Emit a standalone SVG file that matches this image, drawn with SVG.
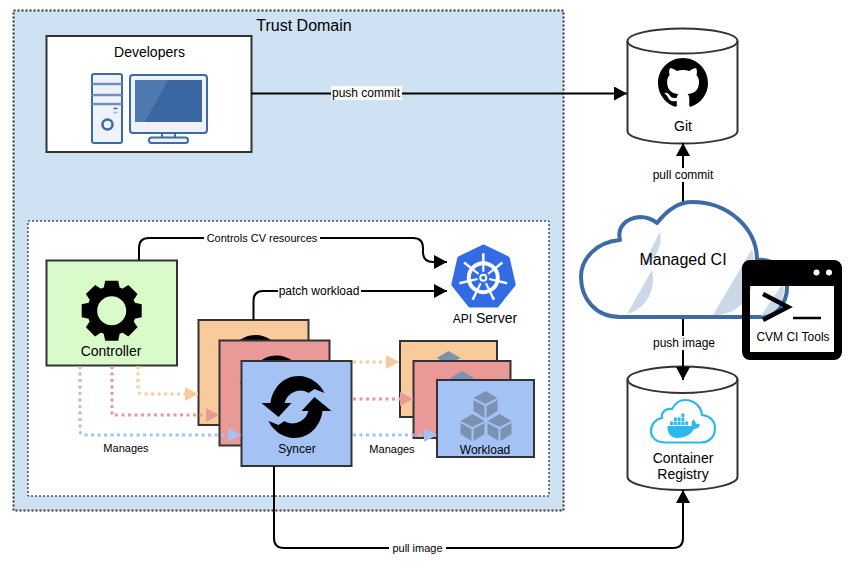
<svg xmlns="http://www.w3.org/2000/svg" width="861" height="575" viewBox="0 0 861 575">
<style>
text{font-family:"Liberation Sans",Arial,sans-serif;fill:#000;text-anchor:middle}
.box{stroke:#333;stroke-width:2}
.o{fill:#f9cb9c}.r{fill:#ea9999}.b{fill:#a4c2f4}
.c{fill:none;stroke:#000;stroke-width:2}
.d{fill:none;stroke-width:3;stroke-dasharray:3 3.5}
.lbl{fill:#fff}
.t11{font-size:11px}.t12{font-size:12px}.t14{font-size:14px}
.cyl{fill:#fff;stroke:#333;stroke-width:2}
.mon{fill:#eff3f9;stroke:#3d6ba5;stroke-width:2}
.hl{fill:#cbd8e8}
.dk{fill:#2bb8ec}
</style>
<defs>
<marker id="ah" markerUnits="userSpaceOnUse" markerWidth="14" markerHeight="14" refX="13" refY="7" orient="auto"><path d="M0 0L13 7L0 14Z" fill="#000"/></marker>
<marker id="ao" markerUnits="userSpaceOnUse" markerWidth="14" markerHeight="14" refX="13" refY="7" orient="auto"><path d="M0 0L13 7L0 14Z" fill="#f9cb9c"/></marker>
<marker id="ar" markerUnits="userSpaceOnUse" markerWidth="14" markerHeight="14" refX="13" refY="7" orient="auto"><path d="M0 0L13 7L0 14Z" fill="#ea9999"/></marker>
<marker id="ab" markerUnits="userSpaceOnUse" markerWidth="14" markerHeight="14" refX="13" refY="7" orient="auto"><path d="M0 0L13 7L0 14Z" fill="#a4c2f4"/></marker>
<g id="sync">
<path d="M-35 -4L-26 -4C-24 -20 -12 -31 2 -31C14 -31 24 -23 28 -14L18 -18L12 -14C6 -19 -8 -17 -12 -4L-5 -4L-18 10Z"/>
<path d="M-35 -4L-26 -4C-24 -20 -12 -31 2 -31C14 -31 24 -23 28 -14L18 -18L12 -14C6 -19 -8 -17 -12 -4L-5 -4L-18 10Z" transform="rotate(180)"/>
</g>
<g id="cube" fill="#7b92b2">
<path d="M12 0L24 7L12 13L0 7Z"/><path d="M0 9L11 15V27L0 20Z"/><path d="M24 9L13 15V27L24 20Z"/>
</g>
<g id="cubes">
<use href="#cube" x="-12" y="0"/><use href="#cube" x="-25" y="23"/><use href="#cube" x="2" y="23"/>
</g>
<path id="tooth" d="M-8 -23L-6.5 -30H6.5L8 -23Z"/>
<path id="spoke" d="M-1 -6H1L1.3 -24.5H-1.3Z" fill="#fff"/>
</defs>

<rect id="trust-domain" x="13.5" y="10.5" width="550" height="500" fill="#cfe2f3" stroke="#333" stroke-width="2" stroke-dasharray="2 2"/>
<text x="304" y="31" style="font-size:16px">Trust Domain</text>
<rect id="cluster" x="28" y="221" width="521" height="275" fill="#fff" stroke="#000" stroke-width="1" stroke-dasharray="2 2"/>

<g id="developers">
<rect x="46.5" y="36" width="205" height="116" fill="#fff" class="box"/>
<text x="149.5" y="57" class="t14">Developers</text>
<rect x="92" y="74" width="30" height="69" rx="2" class="mon"/>
<path d="M92 84H122M92 95H122M92 104H122" stroke="#6f91bd" stroke-width="2.5" fill="none"/>
<circle cx="107.5" cy="124.5" r="5" fill="#eff3f9" stroke="#3d6ba5" stroke-width="2.5"/>
<path d="M113.5 108.5H117.5" stroke="#3d6ba5" stroke-width="1.5"/><path d="M113.5 112.5H117.5" stroke="#9db3d1" stroke-width="1.5"/>
<rect x="162" y="132" width="13" height="6" class="mon"/>
<rect x="149" y="137.5" width="39" height="5.5" rx="2.5" class="mon"/>
<rect x="130" y="75" width="77" height="58" rx="3" class="mon"/>
<rect x="135" y="80" width="67" height="42" fill="#3a67a3"/>
<path d="M135 80H168L145 122H135Z" fill="#4f7aaf"/>
</g>

<g id="controller">
<rect x="46.5" y="260.5" width="130.5" height="105" fill="#d9fbc9" class="box"/>
<g transform="translate(111.7 310.7)">
<circle r="19.5" fill="none" stroke="#000" stroke-width="10"/>
<use href="#tooth"/><use href="#tooth" transform="rotate(45)"/><use href="#tooth" transform="rotate(90)"/><use href="#tooth" transform="rotate(135)"/><use href="#tooth" transform="rotate(180)"/><use href="#tooth" transform="rotate(225)"/><use href="#tooth" transform="rotate(270)"/><use href="#tooth" transform="rotate(315)"/>
</g>
<text x="111" y="356" class="t14">Controller</text>
</g>

<g id="syncer-orange">
<rect x="198.5" y="320" width="110" height="105" class="box o"/>
<use href="#sync" transform="translate(253.5 366)"/>
</g>
<g id="syncer-red">
<rect x="219.5" y="340.5" width="110" height="105" class="box r"/>
<use href="#sync" transform="translate(274.5 386.5)"/>
</g>
<g id="syncer">
<rect x="241.5" y="361" width="110" height="105" class="box b"/>
<use href="#sync" transform="translate(296.5 407)"/>
<text x="297" y="453" class="t12">Syncer</text>
</g>

<g id="workload-orange">
<rect x="400" y="341" width="97" height="76" class="box o"/>
<use href="#cubes" transform="translate(448.5 351)"/>
</g>
<g id="workload-red">
<rect x="413.5" y="361" width="97" height="77" class="box r"/>
<use href="#cubes" transform="translate(462 371)"/>
</g>
<g id="workload">
<rect x="437" y="380" width="97" height="77" class="box b"/>
<use href="#cubes" transform="translate(485.5 391)"/>
<text x="485" y="454" class="t12">Workload</text>
</g>

<g id="api-server">
<path d="M483.5 246.5L507.7 258.2L513.7 284.4L497 305.4H470L453.3 284.4L459.3 258.2Z" fill="#326ce5" stroke="#326ce5" stroke-width="4" stroke-linejoin="round"/>
<g transform="translate(483.3 277.7)">
<circle r="14.5" fill="none" stroke="#fff" stroke-width="4"/>
<use href="#spoke"/><use href="#spoke" transform="rotate(51.43)"/><use href="#spoke" transform="rotate(102.86)"/><use href="#spoke" transform="rotate(154.29)"/><use href="#spoke" transform="rotate(205.71)"/><use href="#spoke" transform="rotate(257.14)"/><use href="#spoke" transform="rotate(308.57)"/>
<circle r="4" fill="#fff"/><circle r="2" fill="#326ce5"/>
</g>
<text x="485" y="323" class="t14"><tspan class="t12">API</tspan> Server</text>
</g>

<g id="git">
<path d="M627.5 41C627.5 34 652 28.5 682.5 28.5S737.5 34 737.5 41V131C737.5 138 713 143.5 682.5 143.5S627.5 138 627.5 131Z" class="cyl"/>
<path d="M627.5 41C627.5 48 652 53.5 682.5 53.5S737.5 48 737.5 41" class="cyl" style="fill:none"/>
<path transform="translate(658 58) scale(3.125)" d="M8 0C3.58 0 0 3.58 0 8c0 3.54 2.29 6.53 5.47 7.59.4.07.55-.17.55-.38 0-.19-.01-.82-.01-1.49-2.01.37-2.53-.49-2.69-.94-.09-.23-.48-.94-.82-1.13-.28-.15-.68-.52-.01-.53.63-.01 1.08.58 1.23.82.72 1.21 1.87.87 2.33.66.07-.52.28-.87.51-1.07-1.78-.2-3.64-.89-3.64-3.95 0-.87.31-1.59.82-2.15-.08-.2-.36-1.02.08-2.12 0 0 .67-.21 2.2.82.64-.18 1.32-.27 2-.27.68 0 1.36.09 2 .27 1.53-1.04 2.2-.82 2.2-.82.44 1.1.16 1.92.08 2.12.51.56.82 1.27.82 2.15 0 3.07-1.87 3.75-3.65 3.95.29.25.54.73.54 1.48 0 1.07-.01 1.93-.01 2.2 0 .21.15.46.55.38A8.013 8.013 0 0016 8c0-4.42-3.58-8-8-8z"/>
<text x="683" y="131" class="t14">Git</text>
</g>

<g id="container-registry">
<path d="M627.5 379.5C627.5 372.5 652 366.5 682.5 366.5S737.5 372.5 737.5 379.5V477C737.5 484 713 490 682.5 490S627.5 484 627.5 477Z" class="cyl"/>
<path d="M627.5 379.5C627.5 386.5 652 393 682.5 393S737.5 386.5 737.5 379.5" class="cyl" style="fill:none"/>
<path d="M665 442.5C656 442.5 651 437 651 431C651 424 656 419 662 418C661 412 666 408 672 409C675 403 680 400 685 400C694 400 701 406 702 415C710 416 715 421 715 428C715 437 709 442.5 701 442.5Z" fill="#fff" stroke="#2bb8ec" stroke-width="2.2"/>
<path class="dk" d="M667.5 426H692C691 423 692 421 693.5 419.5C695 421 696 422.5 696 424C697 423.5 699 423.5 700 425C699 428 696 429 694 429C691 435 684 438 677 438C671 438 667 433 667.5 426Z"/>
<path class="dk" d="M670 421.5h3v3.5h-3zM673.8 421.5h3v3.5h-3zM677.6 421.5h3v3.5h-3zM681.4 421.5h3v3.5h-3zM685.2 421.5h3v3.5h-3zM673.8 417.5h3v3.5h-3zM677.6 417.5h3v3.5h-3zM681.4 417.5h3v3.5h-3zM681.4 413.5h3v3.5h-3z"/>
<text x="683" y="463" class="t14">Container</text>
<text x="683" y="479" class="t14">Registry</text>
</g>

<g id="connectors">
<path class="c" marker-end="url(#ah)" d="M251.5 93.5H627"/>
<path class="c" marker-end="url(#ah)" d="M139 260V248Q139 238 149 238H413Q423 238 423 248V252Q423 262 433 262H447"/>
<path class="c" marker-end="url(#ah)" d="M253.5 320V301Q253.5 291 263.5 291H447"/>
<path class="c" marker-end="url(#ah)" d="M683 205V143"/>
<path class="c" marker-end="url(#ah)" d="M683 318V380"/>
<path class="c" marker-end="url(#ah)" d="M274 466V538Q274 548 284 548H673Q683 548 683 538V490"/>
<path class="d" stroke="#f9cb9c" marker-end="url(#ao)" d="M138 366V389Q138 394 143 394H198"/>
<path class="d" stroke="#ea9999" marker-end="url(#ar)" d="M112 366V415H219"/>
<path class="d" stroke="#a4c2f4" marker-end="url(#ab)" d="M80 366V430Q80 435 85 435H241"/>
<path class="d" stroke="#f9cb9c" marker-end="url(#ao)" d="M353 362H399"/>
<path class="d" stroke="#ea9999" marker-end="url(#ar)" d="M353 399H413"/>
<path class="d" stroke="#a4c2f4" marker-end="url(#ab)" d="M353 435H437"/>
<rect class="lbl" x="331" y="86" width="71" height="14"/><text x="366" y="97" class="t12">push commit</text>
<rect class="lbl" x="204" y="232" width="116" height="13"/><text x="262" y="242" class="t11">Controls CV resources</text>
<rect class="lbl" x="278" y="284" width="83" height="14"/><text x="319" y="295" class="t12">patch workload</text>
<rect class="lbl" x="650" y="168" width="66" height="14"/><text x="683" y="179" class="t12">pull commit</text>
<rect class="lbl" x="651" y="336" width="65" height="14"/><text x="684" y="347" class="t12">push image</text>
<rect class="lbl" x="389" y="541" width="57" height="13"/><text x="417.5" y="552" class="t11">pull image</text>
<text x="126" y="452" class="t11">Manages</text>
<text x="392" y="453" class="t11">Manages</text>
</g>

<g id="managed-ci">
<path d="M620 317C595 317 581 298 581 277C581 258 597 242 620 240C617 228 625 218 640 217C647 217 652 219 657 223C668 209 680 202 692 202C728 202 757 228 757 260C775 258 787 272 787 288C787 304 775 317 760 317Z" fill="#fff" stroke="#3d6ba5" stroke-width="4" stroke-linejoin="round"/>
<path class="hl" d="M660 232L642 267C655 262 663 245 660 232Z"/>
<path class="hl" d="M627 314L652 270C656 288 648 308 627 314Z"/>
<path class="hl" d="M713 315L752 249C758 270 755 315 713 315Z"/>
<path class="hl" d="M761 316L783 283C786 298 780 313 761 316Z"/>
<text x="683" y="265" style="font-size:16px">Managed CI</text>
</g>

<g id="cvm-ci-tools">
<rect x="746" y="264" width="92" height="92" rx="4" fill="none" stroke="#000" stroke-width="8"/>
<rect x="746" y="264" width="92" height="22" fill="#000"/>
<circle cx="816.5" cy="272.5" r="3" fill="#fff"/><circle cx="829" cy="272.5" r="3" fill="#fff"/>
<path d="M763 294L788 307L763 320" fill="none" stroke="#000" stroke-width="4.5"/>
<path d="M793 318H821" stroke="#000" stroke-width="2.5"/>
<text x="793" y="341" class="t12">CVM CI Tools</text>
</g>
</svg>
